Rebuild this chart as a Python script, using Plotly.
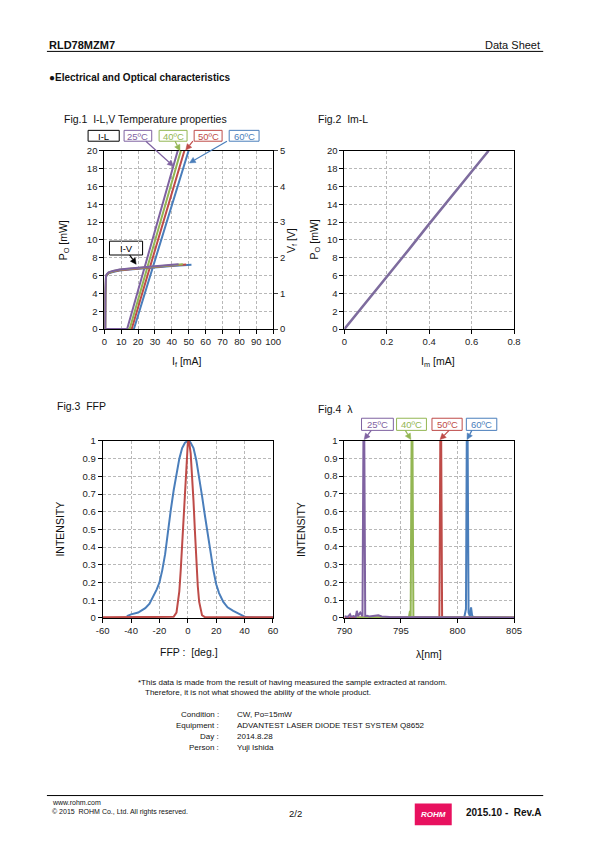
import math
import plotly.graph_objects as go

W, H = 595, 842
FONT = "Liberation Sans, Arial, sans-serif"

PURPLE = "#7F62A1"
GREEN = "#93B653"
RED = "#BE4B48"
BLUE = "#4A7EBB"

# ---------------- Fig.1 I-L (Po [mW] vs If [mA]) ----------------
il_if_25 = [0, 13.5, 20, 25, 30, 35, 40, 44.5]
il_po_25 = [0, 0, 4.35, 7.7, 11.05, 14.4, 17.7, 20.7]
il_if_40 = [0, 15.0, 20, 25, 30, 35, 40, 46.3]
il_po_40 = [0, 0, 3.3, 6.6, 9.9, 13.2, 16.5, 20.66]
il_if_50 = [0, 16.2, 20, 25, 30, 35, 40, 48.4]
il_po_50 = [0, 0, 2.44, 5.64, 8.85, 12.05, 15.26, 20.64]
il_if_60 = [0, 17.5, 20, 25, 30, 35, 40, 45, 50.7]
il_po_60 = [0, 0, 1.55, 4.66, 7.76, 10.87, 13.98, 17.08, 20.5]

# ---------------- Fig.1 I-V (Vf [V] vs If [mA]) ----------------
iv_if_25 = [0, 0.5, 0.6, 0.8, 1.0, 1.5, 2.5, 5, 9, 15, 21, 28, 35, 40, 44]
iv_vf_25 = [0, 0, 1.0, 1.45, 1.5, 1.54, 1.59, 1.63, 1.67, 1.70, 1.72, 1.75, 1.78, 1.80, 1.82]
iv_if_40 = [0, 0.5, 0.6, 0.8, 1.0, 1.5, 2.5, 5, 9, 15, 21, 28, 35, 40, 46.5]
iv_vf_40 = [0, 0, 0.98, 1.44, 1.49, 1.53, 1.58, 1.62, 1.66, 1.69, 1.71, 1.74, 1.77, 1.79, 1.82]
iv_if_50 = [0, 0.5, 0.6, 0.8, 1.0, 1.5, 2.5, 5, 9, 15, 21, 28, 35, 40, 48.5]
iv_vf_50 = [0, 0, 0.97, 1.43, 1.48, 1.52, 1.57, 1.61, 1.65, 1.68, 1.71, 1.73, 1.76, 1.78, 1.81]
iv_if_60 = [0, 0.5, 0.6, 0.8, 1.0, 1.5, 2.5, 5, 9, 15, 21, 28, 35, 40, 51.6]
iv_vf_60 = [0, 0, 0.96, 1.42, 1.47, 1.51, 1.56, 1.60, 1.64, 1.67, 1.70, 1.72, 1.75, 1.77, 1.80]

# ---------------- Fig.2 Im-L ----------------
im_ma = [0, 0.1, 0.2, 0.3, 0.4, 0.5, 0.6, 0.68]
im_po = [0, 2.9, 5.9, 8.8, 11.8, 14.7, 17.6, 20.0]

# ---------------- Fig.3 FFP ----------------
ffp_deg_blue = [-43, -40, -35, -30, -27, -25, -22, -20, -18, -16, -14, -12, -10, -8, -6, -4, -2,
                0, 1, 2, 4, 6, 8, 10, 12, 14, 16, 18, 20, 22, 25, 28, 32, 36, 39, 41, 50, 60]
ffp_int_blue = [0.01, 0.02, 0.03, 0.055, 0.08, 0.11, 0.16, 0.2, 0.27, 0.36, 0.5, 0.61, 0.72, 0.82,
                0.9, 0.96, 0.99, 1.0, 1.0, 0.99, 0.96, 0.89, 0.8, 0.69, 0.58, 0.48, 0.36, 0.27,
                0.19, 0.14, 0.09, 0.06, 0.04, 0.025, 0.01, 0.003, 0.002, 0.002]
ffp_deg_red = [-60, -14, -12, -10, -8, -7, -6, -5, -4, -3, -2, -1, 0, 0.5, 1, 2, 3, 4, 5, 6, 7, 8,
               9, 10, 12, 14, 60]
ffp_int_red = [0.003, 0.003, 0.004, 0.006, 0.03, 0.08, 0.15, 0.27, 0.42, 0.58, 0.75, 0.9, 0.99, 1.0,
               0.99, 0.93, 0.82, 0.66, 0.49, 0.32, 0.18, 0.09, 0.04, 0.015, 0.004, 0.003, 0.003]
ffp_ticks = [-60, -40, -20, 0, 20, 40, 60]
ffp_tick_labels = ["-60", "-40", "-20", "0", "20", "40", "60"]

# ---------------- Fig.4 spectrum ----------------
wl_25 = [790, 790.3, 790.5, 790.6, 790.8, 791.0, 791.1, 791.2, 791.4, 791.6, 791.68, 791.76, 791.84,
         792.0, 792.2, 792.6, 793.0, 793.3, 794, 797, 800, 805]
in_25 = [0.01, 0.005, 0.02, 0.006, 0.01, 0.005, 0.04, 0.01, 0.03, 0.01, 1.0, 1.0, 0.01, 0.012,
         0.008, 0.01, 0.015, 0.008, 0.005, 0.003, 0.002, 0.002]
wl_40 = [791, 795.7, 795.8, 795.86, 795.94, 796.02, 796.1, 805]
in_40 = [0.002, 0.002, 0.04, 0.005, 1.0, 1.0, 0.003, 0.002]
wl_50 = [790, 798.4, 798.48, 798.56, 798.64, 801, 805]
in_50 = [0.002, 0.002, 1.0, 1.0, 0.003, 0.002, 0.002]
wl_60 = [791, 800.6, 800.75, 800.82, 800.9, 800.98, 801.1, 801.2, 801.3, 801.5, 805]
in_60 = [0.0, 0.004, 0.05, 1.0, 1.0, 0.03, 0.01, 0.06, 0.01, 0.003, 0.0]


def px(x):
    return x / W


def py(y):
    return 1 - y / H


fig = go.Figure()

for xs, ys, c in [(il_if_60, il_po_60, BLUE), (il_if_50, il_po_50, RED),
                  (il_if_40, il_po_40, GREEN), (il_if_25, il_po_25, PURPLE)]:
    fig.add_trace(go.Scatter(x=xs, y=ys, mode="lines", line=dict(color=c, width=2),
                             xaxis="x", yaxis="y", showlegend=False))
for xs, ys, c in [(iv_if_60, iv_vf_60, BLUE), (iv_if_50, iv_vf_50, RED),
                  (iv_if_40, iv_vf_40, GREEN), (iv_if_25, iv_vf_25, PURPLE)]:
    fig.add_trace(go.Scatter(x=xs, y=ys, mode="lines", line=dict(color=c, width=2),
                             xaxis="x", yaxis="y5", showlegend=False))

fig.add_trace(go.Scatter(x=im_ma, y=im_po, mode="lines", line=dict(color="#7E6C9E", width=2.5),
                         xaxis="x2", yaxis="y2", showlegend=False))

fig.add_trace(go.Scatter(x=ffp_deg_blue, y=ffp_int_blue, mode="lines", line=dict(color=BLUE, width=2),
                         xaxis="x3", yaxis="y3", showlegend=False))
fig.add_trace(go.Scatter(x=ffp_deg_red, y=ffp_int_red, mode="lines", line=dict(color=RED, width=2),
                         xaxis="x3", yaxis="y3", showlegend=False))

for xs, ys, c in [(wl_60, in_60, BLUE), (wl_50, in_50, RED), (wl_40, in_40, GREEN), (wl_25, in_25, PURPLE)]:
    fig.add_trace(go.Scatter(x=xs, y=ys, mode="lines", line=dict(color=c, width=2),
                             xaxis="x4", yaxis="y4", showlegend=False))

grid = dict(showgrid=True, gridcolor="#B8B8B8", griddash="3px,2px", gridwidth=1,
            showline=True, linecolor="black", linewidth=1, mirror=True,
            ticks="outside", ticklen=4, tickcolor="black", zeroline=False,
            tickfont=dict(size=9.5, color="#222", family=FONT))

fig.update_layout(
    width=W, height=H, autosize=False,
    margin=dict(l=0, r=0, t=0, b=0),
    paper_bgcolor="white", plot_bgcolor="white",
    font=dict(family=FONT, color="#111"),
    xaxis=dict(domain=[px(99), px(272.5)], range=[0, 100], dtick=10, anchor="y", **grid),
    yaxis=dict(domain=[py(327.3), py(146.7)], range=[0, 20], dtick=2, anchor="x", **grid),
    yaxis5=dict(overlaying="y", side="right", anchor="x", range=[0, 5], dtick=1,
                showgrid=False, showline=True, linecolor="black", ticks="outside", ticklen=4,
                zeroline=False, tickfont=dict(size=9.5, color="#222", family=FONT)),
    xaxis2=dict(domain=[px(345.7), px(520)], range=[0, 0.8], dtick=0.2, anchor="y2", **grid),
    yaxis2=dict(domain=[py(327.3), py(146.7)], range=[0, 20], dtick=2, anchor="x2", **grid),
    xaxis3=dict(domain=[px(97.3), px(272.3)], range=[-60, 60], tickvals=ffp_ticks,
                ticktext=ffp_tick_labels, anchor="y3", **grid),
    yaxis3=dict(domain=[py(620), py(440.7)], range=[0, 1], dtick=0.1, anchor="x3", **grid),
    xaxis4=dict(domain=[px(345.7), px(520)], range=[790, 805], dtick=5, anchor="y4", **grid),
    yaxis4=dict(domain=[py(620), py(440.3)], range=[0, 1], dtick=0.1, anchor="x4", **grid),
)

ann = []
shapes = []


def txt(text, x, y, size=10, xanchor="left", angle=0, color="#111", bold=False):
    if bold:
        text = "<b>" + text + "</b>"
    ann.append(dict(text=text, x=px(x), y=py(y), xref="paper", yref="paper", xanchor=xanchor,
                    yanchor="middle", showarrow=False, textangle=angle,
                    font=dict(size=size, color=color, family=FONT)))


def box(text, x0, x1, y0, y1, color):
    shapes.append(dict(type="rect", xref="paper", yref="paper", x0=px(x0), x1=px(x1), y0=py(y1),
                       y1=py(y0), line=dict(color=color, width=1), fillcolor="white", layer="below"))
    ann.append(dict(text=text, x=px((x0 + x1) / 2), y=py((y0 + y1) / 2 + 0.3), xref="paper",
                    yref="paper", xanchor="center", yanchor="middle", showarrow=False,
                    font=dict(size=9.5, color=color, family=FONT)))


def arrow(tail, head, color):
    dx, dy = head[0] - tail[0], head[1] - tail[1]
    L = math.hypot(dx, dy)
    ux, uy = dx / L, dy / L
    hl, hw = 6.0, 3.0
    bx, by = head[0] - ux * hl, head[1] - uy * hl
    shapes.append(dict(type="line", xref="paper", yref="paper", x0=px(tail[0]), y0=py(tail[1]),
                       x1=px(bx), y1=py(by), line=dict(color=color, width=1.2)))
    p1 = (bx - uy * hw, by + ux * hw)
    p2 = (bx + uy * hw, by - ux * hw)
    path = "M {} {} L {} {} L {} {} Z".format(px(head[0]), py(head[1]), px(p1[0]), py(p1[1]),
                                              px(p2[0]), py(p2[1]))
    shapes.append(dict(type="path", xref="paper", yref="paper", path=path, fillcolor=color,
                       line=dict(color=color, width=0.5)))


txt("RLD78MZM7", 40, 40, 11, bold=True)
txt("Data Sheet", 549, 40, 11, xanchor="right")
txt("●Electrical and Optical characteristics", 40, 72, 10, bold=True)

txt("Fig.1\u00a0\u00a0I-L,V Temperature properties", 56, 115, 10.5)
txt("Fig.2\u00a0\u00a0Im-L", 317, 115, 10.5)
txt("Fig.3\u00a0\u00a0FFP", 48, 405, 10.5)
txt("Fig.4\u00a0\u00a0λ", 316, 408, 10.5)

txt("P<sub>O</sub> [mW]", 57, 237, 10.5, xanchor="center", angle=-90)
txt("V<sub>f</sub> [V]", 292, 238, 10.5, xanchor="center", angle=-90)
txt("I<sub>f</sub> [mA]", 184, 361, 10.5, xanchor="center")
txt("P<sub>O</sub> [mW]", 315, 237, 10.5, xanchor="center", angle=-90)
txt("I<sub>m</sub> [mA]", 442, 361, 10.5, xanchor="center")
txt("INTENSITY", 54, 530, 10.5, xanchor="center", angle=-90)
txt("FFP :\u00a0\u00a0[deg.]", 186, 655, 10.5, xanchor="center")
txt("INTENSITY", 301, 530, 10.5, xanchor="center", angle=-90)
txt("λ[nm]", 433, 657, 10.5, xanchor="center")

box("I-L", 82.3, 114.3, 126, 137, "black")
box("25ºC", 119.3, 147.7, 126, 137, PURPLE)
box("40ºC", 155.3, 184, 126, 137, GREEN)
box("50ºC", 191.3, 220, 126, 137, RED)
box("60ºC", 227.3, 258, 126, 137, BLUE)
arrow((141.7, 137), (170, 162.3), PURPLE)
arrow((171.7, 137), (176.7, 146.7), GREEN)
arrow((190, 137), (182.7, 146), RED)
arrow((225, 137), (186.5, 159), BLUE)
box("I-V", 104.3, 138.3, 238.3, 252.3, "black")
arrow((125, 252.3), (131.7, 261.7), "black")

box("25ºC", 363.3, 396, 417.7, 430, PURPLE)
box("40ºC", 399.3, 430, 417.7, 430, GREEN)
box("50ºC", 435.7, 466.7, 417.7, 430, RED)
box("60ºC", 471, 502.3, 417.7, 430, BLUE)
arrow((373.3, 430), (366, 439.3), PURPLE)
arrow((408.3, 430), (414, 439.3), GREEN)
arrow((453.3, 430), (444, 439.3), RED)
arrow((476.7, 430), (471.7, 439.3), BLUE)

txt("*This data is made from the result of having measured the sample extracted at random.", 132, 685, 8)
txt("Therefore, it is not what showed the ability of the whole product.", 139, 696, 8)
labels = ["Condition :", "Equipment :", "Day :", "Person :"]
values = ["CW, Po=15mW", "ADVANTEST LASER DIODE TEST SYSTEM Q8652", "2014.8.28", "Yuji Ishida"]
for i, (lab, val) in enumerate(zip(labels, values)):
    txt(lab, 219, 718 + 11 * i, 8, xanchor="right")
    txt(val, 233, 718 + 11 * i, 8)

shapes.append(dict(type="rect", xref="paper", yref="paper", x0=px(418), x1=px(456), y0=py(830),
                   y1=py(808), fillcolor="#E8115F", line=dict(width=0), layer="below"))
txt("www.rohm.com", 43, 807, 7)
txt("© 2015\u00a0\u00a0ROHM Co., Ltd. All rights reserved.", 43, 817, 7)
txt("2/2", 295, 818, 9.5, xanchor="center")
txt("<i>ROHM</i>", 437, 819, 8, xanchor="center", color="white", bold=True)
txt("2015.10 -\u00a0\u00a0Rev.A", 550, 817, 10, xanchor="right", bold=True)

shapes.append(dict(type="line", xref="paper", yref="paper", x0=px(40), x1=px(550), y0=py(46),
                   y1=py(46), line=dict(color="black", width=1)))
shapes.append(dict(type="line", xref="paper", yref="paper", x0=px(40), x1=px(550), y0=py(800),
                   y1=py(800), line=dict(color="black", width=1)))

fig.update_layout(annotations=ann, shapes=shapes)

fig.write_html("out.html", config={"displayModeBar": False},
               post_script="document.body.style.margin='0';document.body.style.overflow='hidden';"
                           "document.documentElement.style.overflow='hidden';")
